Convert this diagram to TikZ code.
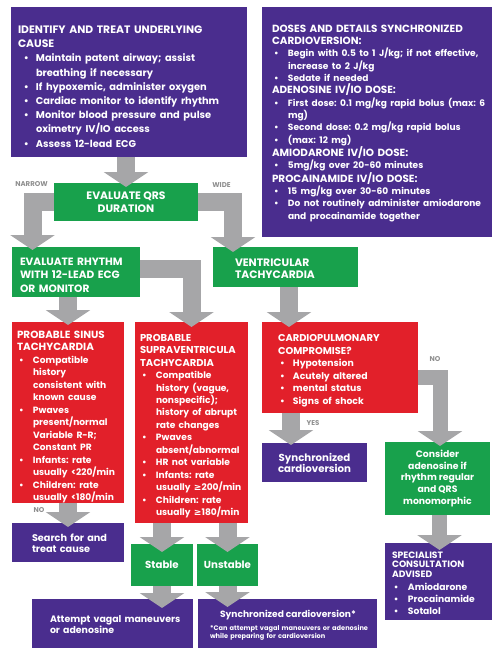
\documentclass[tikz,border=0pt]{standalone}
\usepackage{fontspec}
\setmainfont{Poppins}
\newfontfamily\symfont{DejaVu Sans}
\usetikzlibrary{arrows.meta,calc}
\definecolor{cpur}{HTML}{4A2D8E}
\definecolor{cgrn}{HTML}{18A14C}
\definecolor{cred}{HTML}{E2202A}
\definecolor{carr}{HTML}{A6A6A8}
\definecolor{clab}{HTML}{8F8F8F}
\newlength\bx \newlength\bs
\setlength\parskip{0pt}
\frenchspacing
\def\hdf{}\def\blf{}
\newcommand\setf[3]{\def\hdf{\fontsize{#1}{#3}\selectfont}\def\blf{\fontsize{#2}{#3}\selectfont}}
\newcommand\hd{\par\leftskip=0pt\noindent\hdf}
\newcommand\bl{\par\leftskip=\bx\noindent\blf\llap{\textbullet\hspace{\bs}}}
\newcommand\fs[2]{\fontsize{#1}{#2}\selectfont\bfseries}
\newcommand\gsym{{\symfont\bfseries ≥}}
\tikzset{
 boxs/.style={inner sep=0pt, outer sep=0pt, text=white, align=center},
 pbox/.style={boxs, fill=cpur},
 gbox/.style={boxs, fill=cgrn},
 rbox/.style={boxs, fill=cred},
 txt/.style={inner sep=0pt, outer sep=0pt, text=white, anchor=north west, text width=#1},
 bigarr/.style={draw=carr, line width=18pt, line join=miter, -{Triangle[width=44pt,length=15pt]}},
 midarr/.style={draw=carr, line width=15pt, line join=miter, -{Triangle[width=44pt,length=15pt]}},
 lab/.style={inner sep=0pt, text=clab, font=\fs{7}{8}},
}
\begin{document}
\frenchspacing
\begin{tikzpicture}[x=1pt,y=-1pt]
\useasboundingbox (0,0) rectangle (500,657);
% boxes
\node[pbox, minimum width=236pt, minimum height=150pt] (idb) at (129,82) {};
\node[pbox, minimum width=230pt, minimum height=230pt] (dose) at (377,122) {};
\node[gbox, minimum width=144pt, minimum height=38pt, font=\fs{10.8}{13}] (qrs) at (126,202) {EVALUATE QRS\\DURATION};
\node[gbox, minimum width=128pt, minimum height=50pt] (rhythm) at (76,272) {};
\node[gbox, minimum width=145pt, minimum height=40pt] (vt) at (285.5,267) {};
\node[rbox, minimum width=112pt, minimum height=181pt] (sinus) at (68,412.5) {};
\node[rbox, minimum width=113pt, minimum height=201pt] (svt) at (191.5,422.5) {};
\node[rbox, minimum width=156pt, minimum height=91pt] (cardio) at (340,367.5) {};
\node[pbox, minimum width=112pt, minimum height=39pt] (search) at (68,542.5) {};
\node[pbox, minimum width=105pt, minimum height=39pt, font=\fs{10.2}{11}] (syncmid) at (314.5,462.5) {Synchronized\\cardioversion};
\node[gbox, minimum width=105pt, minimum height=73pt, font=\fs{9.3}{11.75}] (adeno) at (437.5,478.5) {Consider\\adenosine if\\rhythm regular\\and QRS\\monomorphic};
\node[gbox, minimum width=62pt, minimum height=42pt, font=\fs{10.2}{11}] (stable) at (162,565) {Stable};
\node[gbox, minimum width=61pt, minimum height=42pt, font=\fs{10.2}{11}] (unstable) at (227.5,565) {Unstable};
\node[pbox, minimum width=161pt, minimum height=49pt] (vagal) at (112.5,623.5) {};
\node[pbox, minimum width=179pt, minimum height=49pt] (syncbot) at (287.5,623.5) {};
\node[pbox, minimum width=107pt, minimum height=77pt] (spec) at (438.5,581.5) {};
% arrows
\draw[bigarr] (qrs.north |- idb.south) -- ($(qrs.north)+(0,4)$);
\draw[bigarr] (qrs.west) -| ($(rhythm.north west)+(20.5,3)$);
\draw[bigarr] (qrs.east) -| ($(vt.north west)+(20,5)$);
\draw[bigarr] (sinus.north |- rhythm.south) -- ($(sinus.north)+(0,3)$);
\draw[bigarr] ($(rhythm.east)+(0,-3)$) -| ($(svt.north)+(0,5)$);
\draw[bigarr] ($(vt.south)+(3.5,0)$) -- ($(vt.south |- cardio.north)+(3.5,5)$);
\draw[bigarr] (sinus.south) -- ($(search.north)+(0,4)$);
\draw[bigarr] (stable.north |- svt.south) -- ($(stable.north)+(0,8)$);
\draw[bigarr] (unstable.north |- svt.south) -- ($(unstable.north)+(0,8)$);
\draw[bigarr] (stable.south) -- ($(stable.south |- vagal.north)+(0,9)$);
\draw[bigarr] (unstable.south) -- ($(unstable.south |- syncbot.north)+(0,8)$);
\draw[bigarr] ($(cardio.south)+(-49,0)$) -- ($(syncmid.north)+(-23.5,2)$);
\draw[midarr] ($(cardio.east)+(0,9.5)$) -| ($(adeno.north)+(2.5,4)$);
\draw[midarr] ($(adeno.south)+(2,0)$) -- ($(adeno.south |- spec.north)+(2,7)$);
% labels
\node[lab] (lnarrow) at (31.5,184) {NARROW};
\node[lab] (lwide) at (221.5,185) {WIDE};
\node[lab] (lno1) at (39,510) {NO};
\node[lab] (lyes) at (313,423) {YES};
\node[lab] (lno2) at (435,359) {NO};
% texts
\node[txt=240pt, font=\fs{10.8}{14.2}] (idtext) at (18,19.3) {\setf{10.8}{9.85}{14.2}\setlength\bx{18pt}\setlength\bs{7.2pt}%
\hd IDENTIFY AND TREAT UNDERLYING\\CAUSE
\bl Maintain patent airway; assist\\breathing if necessary
\bl If hypoxemic, administer oxygen
\bl Cardiac monitor to identify rhythm
\bl Monitor blood pressure and pulse\\oximetry IV/IO access
\bl Assess 12-lead ECG\par};
\node[txt=240pt, font=\fs{10.3}{12.33}] (dosetext) at (272,19.8) {\setf{10.4}{9.05}{12.33}\setlength\bx{16pt}\setlength\bs{9.3pt}%
\hd DOSES AND DETAILS SYNCHRONIZED\\CARDIOVERSION:
\bl Begin with 0.5 to 1 J/kg; if not effective,\\increase to 2 J/kg
\bl Sedate if needed
\hd ADENOSINE IV/IO DOSE:
\bl First dose: 0.1 mg/kg rapid bolus (max: 6\\mg)
\bl Second dose: 0.2 mg/kg rapid bolus
\bl (max: 12 mg)
\hd AMIODARONE IV/IO DOSE:
\bl 5mg/kg over 20-60 minutes
\hd PROCAINAMIDE IV/IO DOSE:
\bl 15 mg/kg over 30-60 minutes
\bl Do not routinely administer amiodarone\\and procainamide together\par};
\node[txt=200pt, font=\fs{10.6}{13.5}] (rhythmtext) at (20,251.5) {\hd EVALUATE RHYTHM\\WITH 12-LEAD ECG\\OR MONITOR\par};
\node[txt=200pt, font=\fs{10.8}{12}] (vttext) at (235,254.5) {\hd VENTRICULAR\\TACHYCARDIA\par};
\node[txt=200pt, font=\fs{10.4}{12.5}] (sinustext) at (17,325.8) {\setf{10.4}{9.1}{12.5}\setlength\bx{16pt}\setlength\bs{9.3pt}%
\hd PROBABLE SINUS\\TACHYCARDIA
\bl Compatible\\history\\consistent with\\known cause
\bl Pwaves\\present/normal\\Variable R-R;\\Constant PR
\bl Infants: rate\\usually <220/min
\bl Children: rate\\usually <180/min\par};
\node[txt=200pt, font=\fs{10}{12.45}] (svttext) at (140,328.8) {\setf{10}{9.1}{12.45}\setlength\bx{16pt}\setlength\bs{9.3pt}%
\hd PROBABLE\\SUPRAVENTRICULA\\TACHYCARDIA
\bl Compatible\\history (vague,\\nonspecific);\\history of abrupt\\rate changes
\bl Pwaves\\absent/abnormal
\bl HR not variable
\bl Infants: rate\\usually \gsym200/min
\bl Children: rate\\usually \gsym180/min\par};
\node[txt=200pt, font=\fs{9.9}{12.6}] (cardiotext) at (278,328.8) {\setf{9.9}{9.3}{12.6}\setlength\bx{15pt}\setlength\bs{8.3pt}%
\hd CARDIOPULMONARY\\COMPROMISE?
\bl Hypotension
\bl Acutely altered
\bl mental status
\bl Signs of shock\par};
\node[txt=200pt, font=\fs{9.7}{11}] (searchtext) at (32,530) {\hd Search for and\\treat cause\par};
\node[txt=200pt, font=\fs{9.4}{11}] (vagaltext) at (50,611) {\hd Attempt vagal maneuvers\\or adenosine\par};
\node[inner sep=0pt, text=white, anchor=base, font=\fs{9.1}{11}] (synctext) at (288,617.2) {Synchronized cardioversion*};
\node[txt=200pt, font=\fs{6.6}{6.8}] (foottext) at (210,623.6) {\hd *Can attempt vagal maneuvers or adenosine\\while preparing for cardioversion\par};
\node[txt=150pt, font=\fs{9.2}{9.8}] (spechd) at (392,548.2) {\hd SPECIALIST\\CONSULTATION\\ADVISED\par};
\node[txt=150pt, font=\fs{9.2}{12}] (specbl) at (392,578.2) {\setlength\bx{16pt}\setlength\bs{9.4pt}%
\bl Amiodarone
\bl Procainamide
\bl Sotalol\par};
\end{tikzpicture}
\end{document}
